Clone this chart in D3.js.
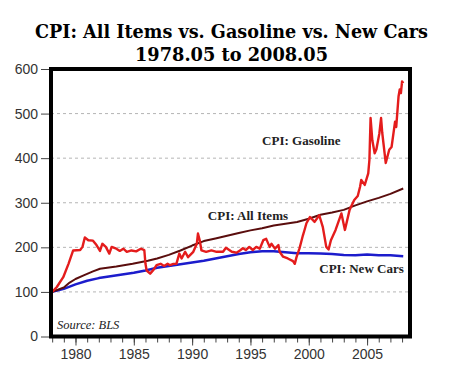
<!DOCTYPE html>
<html>
<head>
<meta charset="utf-8">
<script src="https://cdn.jsdelivr.net/npm/d3@7"></script>
<style>
  body { margin: 0; background: #fff; }
  svg { display: block; }
</style>
</head>
<body>
<svg id="chart" width="450" height="373"></svg>
<script>
// values, indexed so 1978 start = 100
const titleLines = ['CPI: All Items vs. Gasoline vs. New Cars', '1978.05 to 2008.05'];
const yTicks = [0, 100, 200, 300, 400, 500, 600];
const xMajorTicks = [1980, 1985, 1990, 1995, 2000, 2005];
const xMinorTicks = d3.range(1978, 2009);

const allItems = [
  [1978.0, 100], [1979.0, 110], [1979.5, 121], [1980.0, 129], [1980.7, 137],
  [1981.5, 146], [1982.1, 152], [1983.5, 157], [1984.9, 163], [1986.2, 170],
  [1987.0, 175], [1988.0, 183], [1989.0, 193], [1990.0, 204], [1991.0, 214],
  [1992.0, 220], [1993.0, 226], [1994.0, 232], [1995.0, 238], [1996.0, 243],
  [1997.0, 249], [1998.0, 253], [1999.0, 257], [2000.0, 264], [2001.0, 273],
  [2002.0, 278], [2003.0, 284], [2004.0, 294], [2005.0, 303], [2006.0, 311],
  [2007.0, 320], [2008.1, 332]
];

const newCars = [
  [1978.0, 100], [1979.0, 107], [1980.0, 117], [1981.0, 125], [1982.0, 131],
  [1983.0, 135], [1984.0, 139], [1985.0, 143], [1986.0, 148], [1987.0, 154],
  [1988.0, 158], [1989.0, 162], [1990.0, 166], [1991.0, 170], [1992.0, 175],
  [1993.0, 180], [1994.0, 185], [1995.0, 189], [1996.0, 191], [1997.0, 191],
  [1998.0, 189], [1999.0, 187], [2000.0, 187], [2001.0, 186], [2002.0, 185],
  [2003.0, 183], [2004.0, 182], [2005.0, 184], [2006.0, 182], [2007.0, 182],
  [2008.1, 180]
];

const gasoline = [
  [1978.0, 100], [1978.4, 111], [1978.95, 133], [1979.4, 163], [1979.8, 193],
  [1980.4, 194], [1980.6, 201], [1980.8, 222], [1981.1, 216], [1981.5, 215],
  [1981.8, 205], [1982.1, 192], [1982.3, 208], [1982.6, 201], [1982.9, 186],
  [1983.1, 201], [1983.5, 197], [1983.8, 192], [1984.1, 197], [1984.4, 190],
  [1984.8, 193], [1985.2, 191], [1985.6, 197], [1985.9, 194], [1986.0, 163],
  [1986.1, 148], [1986.4, 141], [1986.7, 150], [1986.95, 160], [1987.3, 163],
  [1987.6, 158], [1987.9, 163], [1988.1, 160], [1988.4, 163], [1988.65, 163],
  [1988.9, 186], [1989.1, 175], [1989.4, 190], [1989.65, 178], [1990.1, 190],
  [1990.4, 208], [1990.5, 231], [1990.65, 216], [1990.8, 193], [1991.2, 190],
  [1991.65, 193], [1992.1, 190], [1992.65, 190], [1992.9, 199], [1993.4, 190],
  [1993.8, 188], [1994.1, 193], [1994.35, 198], [1994.6, 194], [1994.9, 201],
  [1995.2, 194], [1995.5, 201], [1995.8, 197], [1996.1, 216], [1996.35, 219],
  [1996.65, 201], [1996.8, 208], [1997.1, 197], [1997.4, 205], [1997.5, 190],
  [1997.8, 179], [1998.2, 175], [1998.65, 169], [1998.8, 163], [1998.95, 178],
  [1999.2, 197], [1999.35, 212], [1999.5, 227], [1999.65, 240], [1999.8, 254],
  [2000.1, 268], [2000.5, 257], [2000.9, 272], [2001.2, 246], [2001.5, 201],
  [2001.7, 195], [2001.9, 216], [2002.3, 239], [2002.8, 276], [2003.1, 239],
  [2003.5, 284], [2003.9, 306], [2004.2, 315], [2004.4, 336], [2004.5, 351],
  [2004.8, 340], [2005.1, 366], [2005.2, 396], [2005.3, 490], [2005.45, 440],
  [2005.65, 411], [2005.8, 420], [2006.05, 455], [2006.2, 490], [2006.3, 457],
  [2006.6, 389], [2006.9, 419], [2007.1, 425], [2007.4, 482], [2007.5, 470],
  [2007.7, 539], [2007.8, 554], [2007.9, 546], [2008.0, 572], [2008.1, 568]
];

const labels = [
  { text: 'CPI: Gasoline', x: 1996.0, y: 430 },
  { text: 'CPI: All Items', x: 1991.35, y: 262 },
  { text: 'CPI: New Cars', x: 2000.9, y: 143 }
];

const margin = { top: 69, right: 40, bottom: 36.5, left: 51 };
const width = 450 - margin.left - margin.right;
const height = 373 - margin.top - margin.bottom;

const svg = d3.select('#chart');

const x = d3.scaleLinear()
  .domain([1977.9, 2008.68])
  .range([0, width]);
const y = d3.scaleLinear()
  .domain([0, 600])
  .range([height, 0]);

// title, stretched to the widths seen in the picture
const titleWidths = [393, 193];
svg.append('g')
  .attr('class', 'title')
  .selectAll('text')
  .data(titleLines)
  .enter()
  .append('text')
  .attr('x', 231.5)
  .attr('y', (d, i) => 38 + i * 23)
  .attr('text-anchor', 'middle')
  .attr('textLength', (d, i) => titleWidths[i])
  .attr('lengthAdjust', 'spacingAndGlyphs')
  .style('font-family', '"DejaVu Serif", serif')
  .style('font-weight', 'bold')
  .style('font-size', '18px')
  .text(d => d);

const g = svg.append('g')
  .attr('transform', 'translate(' + margin.left + ', ' + margin.top + ')');

// dashed grid
g.append('g')
  .attr('class', 'grid')
  .selectAll('line')
  .data(yTicks.filter(d => d > 0 && d < 600))
  .enter()
  .append('line')
  .attr('x1', 0)
  .attr('x2', width)
  .attr('y1', d => y(d))
  .attr('y2', d => y(d))
  .attr('stroke', '#b5b5b5')
  .attr('stroke-width', 1)
  .attr('stroke-dasharray', '3,3');

// y axis
const yAxis = g.append('g')
  .attr('class', 'axis y-axis')
  .call(d3.axisLeft(y).tickValues(yTicks).tickSize(10).tickPadding(3));
yAxis.select('.domain').remove();

// x axis: yearly minor ticks, 5-year labels
const xMinor = g.append('g')
  .attr('class', 'axis x-minor')
  .attr('transform', 'translate(0, ' + height + ')')
  .call(d3.axisBottom(x).tickValues(xMinorTicks).tickSize(6).tickFormat(''));
xMinor.select('.domain').remove();
const xAxis = g.append('g')
  .attr('class', 'axis x-axis')
  .attr('transform', 'translate(0, ' + height + ')')
  .call(d3.axisBottom(x).tickValues(xMajorTicks).tickSize(9).tickPadding(4).tickFormat(d3.format('d')));
xAxis.select('.domain').remove();

svg.selectAll('.axis text')
  .style('font-family', '"Liberation Sans", Arial, sans-serif')
  .style('font-size', '14px')
  .attr('fill', '#333');
svg.selectAll('.axis line')
  .attr('stroke', '#444');

// lines
const line = d3.line()
  .x(d => x(d[0]))
  .y(d => y(d[1]));

const series = [
  { data: newCars, color: '#1c1ccc', w: 2.5 },
  { data: allItems, color: '#5a0d0d', w: 2 },
  { data: gasoline, color: '#e41c1c', w: 2.4 }
];

g.append('g')
  .attr('class', 'lines')
  .selectAll('path')
  .data(series)
  .enter()
  .append('path')
  .attr('d', d => line(d.data))
  .attr('fill', 'none')
  .attr('stroke', d => d.color)
  .attr('stroke-width', d => d.w)
  .attr('stroke-linejoin', 'round');

// series labels
g.append('g')
  .attr('class', 'labels')
  .selectAll('text')
  .data(labels)
  .enter()
  .append('text')
  .attr('x', d => x(d.x))
  .attr('y', d => y(d.y))
  .style('font-family', '"Liberation Serif", serif')
  .style('font-weight', 'bold')
  .style('font-size', '13px')
  .attr('fill', '#222')
  .text(d => d.text);

g.append('text')
  .attr('x', 6)
  .attr('y', height - 8)
  .style('font-family', '"Liberation Serif", serif')
  .style('font-style', 'italic')
  .style('font-size', '12.5px')
  .attr('fill', '#222')
  .text('Source: BLS');

// heavy frame
g.append('rect')
  .attr('width', width)
  .attr('height', height)
  .attr('fill', 'none')
  .attr('stroke', '#000')
  .attr('stroke-width', 4);
</script>
</body>
</html>
